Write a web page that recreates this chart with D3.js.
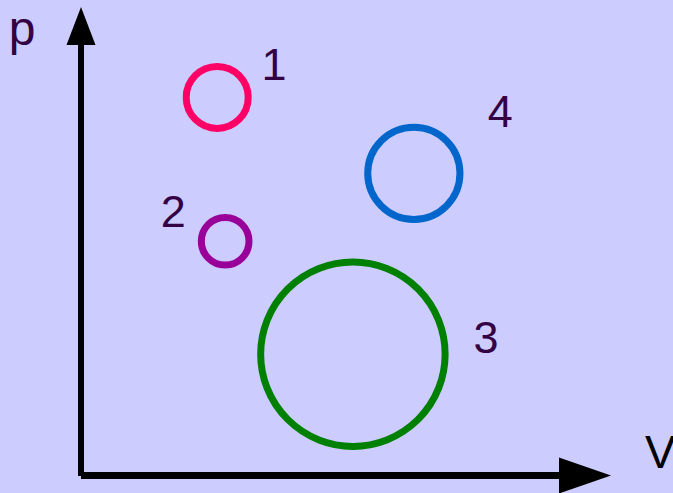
<!DOCTYPE html>
<html>
<head>
<meta charset="utf-8">
<script src="https://cdn.jsdelivr.net/npm/d3@7"></script>
<style>
  html, body { margin: 0; padding: 0; background: #ccccff; }
  svg { display: block; }
</style>
</head>
<body>
<div id="chart"></div>
<script>
// states in the p-V plane (arbitrary units, 0..10 on both axes)
const labels = ["1", "2", "3", "4"];
const volumes = [2.57, 2.72, 5.13, 6.28];
const pressures = [8.07, 5.0, 2.59, 6.45];
const radii = [0.585, 0.45, 1.74, 0.87];
const colors = ["#ff0066", "#990099", "#008000", "#0066cc"];
const labelV = [3.64, 1.74, 7.64, 7.91];
const labelP = [8.44, 5.30, 2.61, 7.44];

const width = 673, height = 493;

const svg = d3.select("#chart").append("svg")
    .attr("width", width).attr("height", height);

svg.append("rect").attr("width", width).attr("height", height).attr("fill", "#ccccff");

const x = d3.scaleLinear().domain([0, 10]).range([81, 611]);
const y = d3.scaleLinear().domain([0, 10]).range([475.5, 7]);

// assi
const axes = svg.append("g");
axes.append("line")
    .attr("x1", x(0)).attr("x2", x(0))
    .attr("y1", y(0) + 0.5).attr("y2", 45)
    .attr("stroke", "#000").attr("stroke-width", 6);
axes.append("line")
    .attr("x1", x(0)).attr("x2", 560)
    .attr("y1", y(0)).attr("y2", y(0))
    .attr("stroke", "#000").attr("stroke-width", 7);

// frecce
axes.append("path")
    .attr("d", d3.line()([[x(0), y(10)], [x(0) + 14.5, 45], [x(0) - 14.5, 45]]) + "Z")
    .attr("fill", "#000");
axes.append("path")
    .attr("d", d3.line()([[x(10), y(0)], [559, y(0) - 18], [559, y(0) + 18]]) + "Z")
    .attr("fill", "#000");

const font = "'Liberation Sans', Arial, sans-serif";

svg.append("text")
    .attr("x", 22).attr("y", 45)
    .attr("text-anchor", "middle")
    .attr("font-family", font).attr("font-size", 48)
    .attr("fill", "#330044")
    .text("p");

svg.append("text")
    .attr("x", 645).attr("y", 468)
    .attr("font-family", font).attr("font-size", 46)
    .attr("fill", "#000")
    .text("V");

// stati
svg.selectAll("circle.state")
    .data(labels).enter().append("circle")
    .attr("class", "state")
    .attr("cx", (d, i) => x(volumes[i]))
    .attr("cy", (d, i) => y(pressures[i]))
    .attr("r", (d, i) => x(radii[i]) - x(0))
    .attr("fill", "none")
    .attr("stroke", (d, i) => colors[i])
    .attr("stroke-width", 7);

svg.selectAll("text.label")
    .data(labels).enter().append("text")
    .attr("class", "label")
    .attr("x", (d, i) => x(labelV[i]))
    .attr("y", (d, i) => y(labelP[i]))
    .attr("text-anchor", "middle")
    .attr("font-family", font).attr("font-size", 45)
    .attr("fill", "#330044")
    .text(d => d);
</script>
</body>
</html>
